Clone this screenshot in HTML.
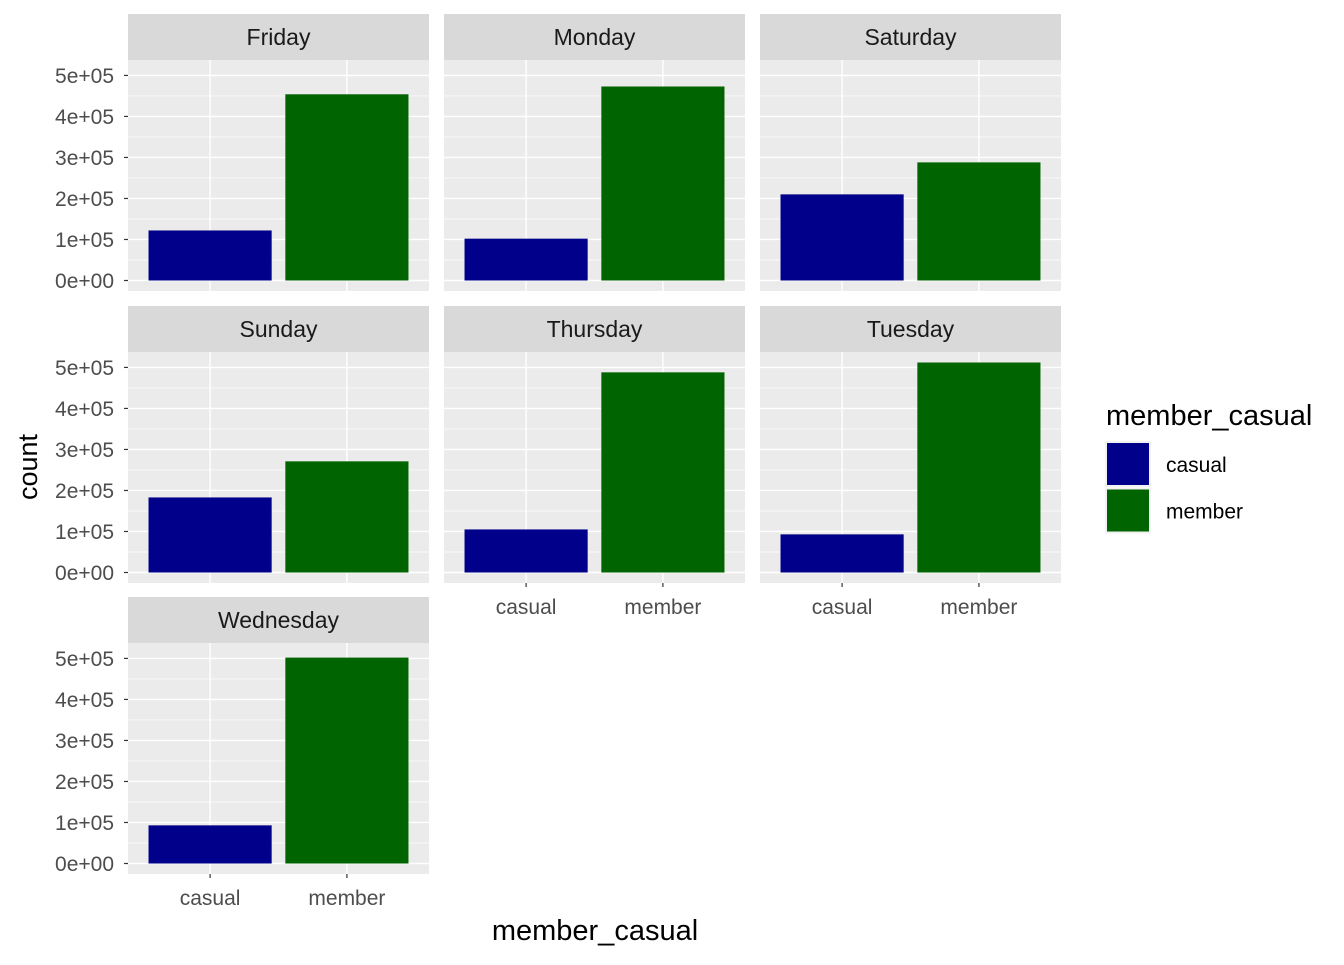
<!DOCTYPE html>
<html><head><meta charset="utf-8"><style>
body{margin:0;background:#fff;}
svg text{font-family:"Liberation Sans",Arial,sans-serif;}
</style></head><body>
<svg id="chart" width="1344" height="960" xmlns="http://www.w3.org/2000/svg"></svg>
<script>
const days = ["Friday","Monday","Saturday","Sunday","Thursday","Tuesday","Wednesday"];
const categories = ["casual","member"];
const casualValues = [122000,102000,210000,183000,105000,93000,93000];
const memberValues = [454000,473000,288000,271000,488000,512000,502000];
const yTicks = [0,100000,200000,300000,400000,500000];
const yTickLabels = ["0e+00","1e+05","2e+05","3e+05","4e+05","5e+05"];
const colors = {casual:"#00008B", member:"#006400"};

const svg = document.getElementById('chart');
const NS = "http://www.w3.org/2000/svg";
function mk(tag, attrs, parent){const e=document.createElementNS(NS,tag);for(const k in attrs)e.setAttribute(k,attrs[k]);(parent||svg).appendChild(e);return e;}

const colX=[128,444,760], panelW=301;
const rowStripY=[14,306,597], stripH=46, plotH=231;
const maxV=Math.max(...casualValues,...memberValues);
const yMin=-0.05*maxV, yMax=maxV*1.05;
function yScale(v,top){return top+plotH-(v-yMin)/(yMax-yMin)*plotH;}
function xScale(i,left){const u=panelW/2.2;return left+(0.6+i)*u;}
const bw=0.9*panelW/2.2;

days.forEach((day,di)=>{
  const r=Math.floor(di/3), c=di%3;
  const left=colX[c], st=rowStripY[r], top=st+stripH;
  const g=mk('g',{});
  
  
  const strip=mk('rect',{x:left,y:st,width:panelW,height:stripH,fill:"#D9D9D9"},g);
  
  
  const st_t=mk('text',{x:left+panelW/2,y:st+stripH/2+8,'text-anchor':'middle','font-size':'23',fill:'#1A1A1A'},g);
  st_t.textContent=day;
  
  
  const bg=mk('rect',{x:left,y:top,width:panelW,height:plotH,fill:"#EBEBEB"},g);
  
  
  for(let v=-50000; v<=yMax; v+=50000){
    const major=(v%100000===0);
    const y=yScale(v,top); if(y<top||y>top+plotH) continue;
    mk('line',{x1:left,x2:left+panelW,y1:y,y2:y,stroke:'#fff','stroke-width':major?1.4:0.7},g);
  }
  categories.forEach((cat,ci)=>{const x=xScale(ci,left);mk('line',{x1:x,x2:x,y1:top,y2:top+plotH,stroke:'#fff','stroke-width':1.4},g);});
  const vals=[casualValues[di],memberValues[di]];
  categories.forEach((cat,ci)=>{
    const x=xScale(ci,left), y0=yScale(0,top), y1=yScale(vals[ci],top);
    const b=mk('rect',{x:x-bw/2,y:y1,width:bw,height:y0-y1,fill:colors[cat]},g);
    
    
  });
  if(c===0){
    yTicks.forEach((t,ti)=>{
      const y=yScale(t,top);
      mk('line',{x1:left-4,x2:left,y1:y,y2:y,stroke:'#333','stroke-width':1.2});
      const tl=mk('text',{x:left-14,y:y+7.5,'text-anchor':'end','font-size':'21',fill:'#4D4D4D'});
      tl.textContent=yTickLabels[ti];
      
      
    });
  }
  const showX = (r===2) || (r===1 && c>0);
  if(showX){
    categories.forEach((cat,ci)=>{
      const x=xScale(ci,left), yb=top+plotH;
      mk('line',{x1:x,x2:x,y1:yb,y2:yb+4,stroke:'#333','stroke-width':1.2});
      const tl=mk('text',{x:x,y:yb+31,'text-anchor':'middle','font-size':'21',fill:'#4D4D4D'});
      tl.textContent=cat;
      
      
    });
  }
});
const yt=mk('text',{x:0,y:0,transform:'translate(37,467) rotate(-90)','text-anchor':'middle','font-size':'27',fill:'#000'});
yt.textContent='count';


const xt=mk('text',{x:595,y:940,'text-anchor':'middle','font-size':'29',fill:'#000'});
xt.textContent='member_casual';


const lg=mk('g',{});


const lt=mk('text',{x:1106,y:425,'font-size':'29',fill:'#000'},lg);
lt.textContent='member_casual';


categories.forEach((cat,ci)=>{
  const y=441+ci*46.5;
  mk('rect',{x:1105,y:y,width:46,height:46,fill:'#F2F2F2'},lg);
  const k=mk('rect',{x:1107,y:y+2,width:42,height:42,fill:colors[cat]},lg);
  
  
  const t=mk('text',{x:1166,y:y+31,'font-size':'21',fill:'#000'},lg);
  t.textContent=cat;
  
  
});
</script>
</body></html>
